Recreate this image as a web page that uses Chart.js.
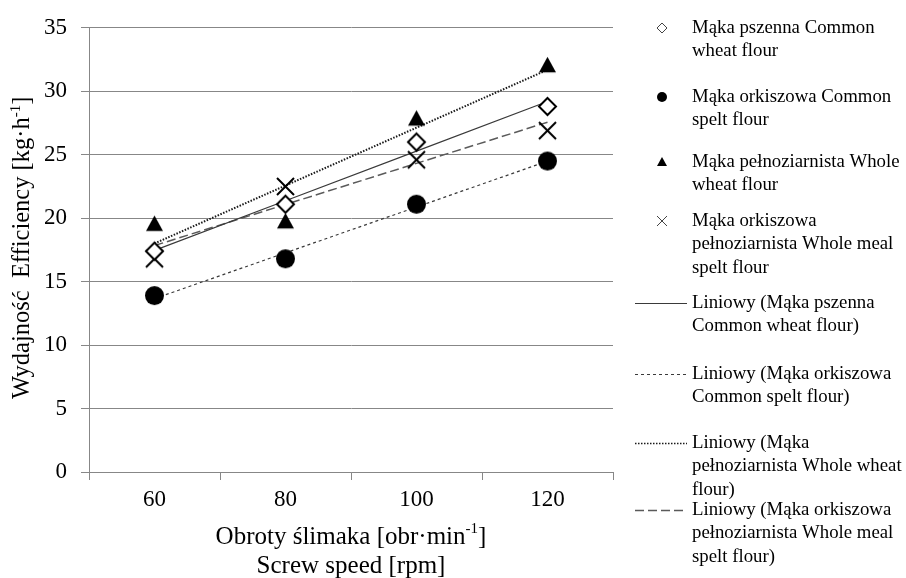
<!DOCTYPE html>
<html>
<head>
<meta charset="utf-8">
<script src="https://cdn.jsdelivr.net/npm/chart.js@4/dist/chart.umd.min.js"></script>
<style>
  html, body { margin: 0; padding: 0; background: #fff; }
  #wrap { width: 906px; height: 578px; position: relative; }
</style>
</head>
<body>
<div id="wrap"><canvas id="c" width="906" height="578"></canvas></div>
<script>
// Screw speed categories [rpm]
const speeds = ['60', '80', '100', '120'];

// Efficiency [kg·h-1] for each flour type
const wheatFlour          = [17.4, 21.1, 26.0, 28.8];
const speltFlour          = [13.9, 16.8, 21.1, 24.5];
const wholeWheatFlour     = [19.6, 19.8, 27.9, 32.1];
const wholeMealSpeltFlour = [16.8, 22.5, 24.6, 26.9];

// Value axis
const yMin = 0, yMax = 35, yStep = 5;

// Series names (Polish + English)
const seriesNames = [
  'Mąka pszenna Common wheat flour',
  'Mąka orkiszowa Common spelt flour',
  'Mąka pełnoziarnista Whole wheat flour',
  'Mąka orkiszowa pełnoziarnista Whole meal spelt flour'
];

const FONT = '"Liberation Serif", "Times New Roman", serif';
const GRID = '#878787';

// Least-squares linear trend evaluated at each category index
function linearTrend(values) {
  const n = values.length;
  let sx = 0, sy = 0, sxx = 0, sxy = 0;
  values.forEach((v, i) => { const x = i + 1; sx += x; sy += v; sxx += x * x; sxy += x * v; });
  const b = (n * sxy - sx * sy) / (n * sxx - sx * sx);
  const a = (sy - b * sx) / n;
  return values.map((_, i) => a + b * (i + 1));
}

// Marker glyphs, drawn centred on their own small canvas
function marker(kind, s, lw) {
  const cv = document.createElement('canvas');
  const size = Math.ceil(s + 2 * lw + 2);
  cv.width = size; cv.height = size;
  const g = cv.getContext('2d');
  const c = size / 2, h = s / 2;
  g.lineWidth = lw;
  g.strokeStyle = '#000';
  g.fillStyle = '#000';
  g.beginPath();
  if (kind === 'diamond') {
    g.moveTo(c, c - h); g.lineTo(c + h, c); g.lineTo(c, c + h); g.lineTo(c - h, c); g.closePath();
    g.fillStyle = '#fff'; g.fill(); g.stroke();
  } else if (kind === 'circle') {
    g.arc(c, c, h, 0, Math.PI * 2); g.fill();
  } else if (kind === 'triangle') {
    const hh = h * 0.9;
    g.moveTo(c, c - hh); g.lineTo(c + h, c + hh); g.lineTo(c - h, c + hh); g.closePath(); g.fill();
  } else if (kind === 'cross') {
    g.moveTo(c - h, c - h); g.lineTo(c + h, c + h);
    g.moveTo(c + h, c - h); g.lineTo(c - h, c + h);
    g.stroke();
  }
  return cv;
}

const plotMarks = {
  diamond: marker('diamond', 17, 2),
  circle: marker('circle', 19, 0),
  triangle: marker('triangle', 17, 0),
  cross: marker('cross', 17, 2)
};

const trendStyles = [
  { color: '#3a3a3a', width: 1.2, dash: [] },
  { color: '#3a3a3a', width: 1.2, dash: [3, 3] },
  { color: '#1a1a1a', width: 2, dash: [1.5, 1.5] },
  { color: '#5a5a5a', width: 1.5, dash: [9, 4] }
];

const series = [wheatFlour, speltFlour, wholeWheatFlour, wholeMealSpeltFlour];
const markKinds = ['diamond', 'circle', 'triangle', 'cross'];

const datasets = [];
series.forEach((vals, i) => {
  datasets.push({
    label: seriesNames[i],
    data: vals,
    showLine: false,
    pointStyle: plotMarks[markKinds[i]],
    pointRadius: 9,
    order: 0,
    clip: false
  });
});
series.forEach((vals, i) => {
  const st = trendStyles[i];
  datasets.push({
    label: 'Liniowy (' + seriesNames[i] + ')',
    data: linearTrend(vals),
    borderColor: st.color,
    borderWidth: st.width,
    borderDash: st.dash,
    pointRadius: 0,
    fill: false,
    tension: 0,
    order: 1
  });
});

// Draws a run of text with superscript parts; align: 'left' | 'center'
function richText(ctx, parts, x, y, size, align) {
  const supSize = Math.round(size * 0.6);
  const widths = parts.map(p => {
    ctx.font = (p.sup ? supSize : size) + 'px ' + FONT;
    return ctx.measureText(p.t).width;
  });
  const total = widths.reduce((a, b) => a + b, 0);
  let cx = align === 'center' ? x - total / 2 : x;
  ctx.textAlign = 'left';
  ctx.textBaseline = 'middle';
  parts.forEach((p, i) => {
    ctx.font = (p.sup ? supSize : size) + 'px ' + FONT;
    ctx.fillText(p.t, cx, p.sup ? y - size * 0.3 : y);
    cx += widths[i];
  });
}

// Legend on the right-hand side
const legendEntries = [
  { mark: 'diamond',  y: 28,  lines: ['Mąka pszenna Common', 'wheat flour'] },
  { mark: 'circle',   y: 97,  lines: ['Mąka orkiszowa Common', 'spelt flour'] },
  { mark: 'triangle', y: 162, lines: ['Mąka pełnoziarnista Whole', 'wheat flour'] },
  { mark: 'cross',    y: 221, lines: ['Mąka orkiszowa', 'pełnoziarnista Whole meal', 'spelt flour'] },
  { trend: 0, y: 303, lines: ['Liniowy (Mąka pszenna', 'Common wheat flour)'] },
  { trend: 1, y: 374, lines: ['Liniowy (Mąka orkiszowa', 'Common spelt flour)'] },
  { trend: 2, y: 443, lines: ['Liniowy (Mąka', 'pełnoziarnista Whole wheat', 'flour)'] },
  { trend: 3, y: 510, lines: ['Liniowy (Mąka orkiszowa', 'pełnoziarnista Whole meal', 'spelt flour)'] }
];

function drawLegendMark(ctx, kind, x, y) {
  const h = 5;
  ctx.save();
  ctx.beginPath();
  if (kind === 'diamond') {
    ctx.strokeStyle = '#444'; ctx.lineWidth = 1;
    ctx.moveTo(x, y - h); ctx.lineTo(x + h, y); ctx.lineTo(x, y + h); ctx.lineTo(x - h, y); ctx.closePath();
    ctx.stroke();
  } else if (kind === 'circle') {
    ctx.fillStyle = '#000'; ctx.arc(x, y, h, 0, Math.PI * 2); ctx.fill();
  } else if (kind === 'triangle') {
    ctx.fillStyle = '#000';
    ctx.moveTo(x, y - h); ctx.lineTo(x + h, y + h * 0.8); ctx.lineTo(x - h, y + h * 0.8); ctx.closePath(); ctx.fill();
  } else if (kind === 'cross') {
    ctx.strokeStyle = '#444'; ctx.lineWidth = 1;
    ctx.moveTo(x - h, y - h); ctx.lineTo(x + h, y + h);
    ctx.moveTo(x + h, y - h); ctx.lineTo(x - h, y + h);
    ctx.stroke();
  }
  ctx.restore();
}

const decorations = {
  id: 'decorations',
  afterDraw(chart) {
    const ctx = chart.ctx;
    const area = chart.chartArea;
    ctx.save();
    ctx.fillStyle = '#000';

    // Value axis title (rotated)
    ctx.save();
    ctx.translate(23, (area.top + area.bottom) / 2 - 2);
    ctx.rotate(-Math.PI / 2);
    richText(ctx, [{ t: 'Wydajność  Efficiency [kg·h' }, { t: '-1', sup: true }, { t: ']' }], 0, 0, 24.5, 'center');
    ctx.restore();

    // Category axis title (two lines)
    const cx = (area.left + area.right) / 2;
    richText(ctx, [{ t: 'Obroty ślimaka [obr·min' }, { t: '-1', sup: true }, { t: ']' }], cx, 537, 25, 'center');
    richText(ctx, [{ t: 'Screw speed [rpm]' }], cx, 566, 25, 'center');

    // Legend
    const textX = 692, lineH = 23.5;
    legendEntries.forEach(e => {
      if (e.mark) {
        drawLegendMark(ctx, e.mark, 662, e.y);
      } else {
        const st = trendStyles[e.trend];
        ctx.save();
        ctx.strokeStyle = st.color;
        ctx.lineWidth = Math.min(st.width, 1.3);
        ctx.setLineDash(st.dash);
        ctx.beginPath();
        ctx.moveTo(635, e.y + 0.5); ctx.lineTo(687, e.y + 0.5);
        ctx.stroke();
        ctx.restore();
      }
      e.lines.forEach((ln, i) => {
        ctx.font = '18.8px ' + FONT;
        ctx.textAlign = 'left';
        ctx.textBaseline = 'middle';
        ctx.fillStyle = '#000';
        ctx.fillText(ln, textX, e.y + i * lineH);
      });
    });
    ctx.restore();
  }
};

new Chart(document.getElementById('c'), {
  type: 'line',
  data: { labels: speeds, datasets },
  options: {
    responsive: false,
    animation: false,
    events: [],
    layout: { padding: { left: 0, right: 293, top: 24, bottom: 0 } },
    plugins: { legend: { display: false }, tooltip: { enabled: false } },
    scales: {
      x: {
        type: 'category',
        offset: true,
        grid: { offset: true, drawOnChartArea: false, drawTicks: true, tickLength: 8, color: GRID },
        border: { color: GRID, width: 1 },
        ticks: { color: '#000', font: { family: FONT, size: 23 }, padding: 6, maxRotation: 0 },
        afterFit(scale) { scale.height = 106; }
      },
      y: {
        min: yMin, max: yMax,
        ticks: { stepSize: yStep, color: '#000', font: { family: FONT, size: 23 }, padding: 14 },
        grid: { color: GRID, tickLength: 8, drawTicks: true },
        border: { color: GRID, width: 1 },
        afterFit(scale) { scale.width = 89; }
      }
    }
  },
  plugins: [decorations]
});
</script>
</body>
</html>
